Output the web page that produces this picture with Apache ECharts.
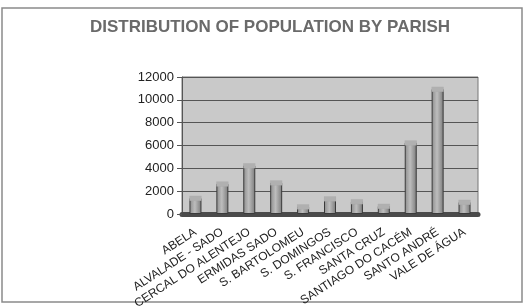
<!DOCTYPE html>
<html>
<head>
<meta charset="utf-8">
<script src="https://cdn.jsdelivr.net/npm/echarts@6/dist/echarts.min.js"></script>
<style>
  html, body { margin: 0; padding: 0; background: #fff; }
  #chart { width: 528px; height: 306px; }
</style>
</head>
<body>
<div id="chart"></div>
<script>
// parishes and resident population
const parishes = ['ABELA', 'ALVALADE - SADO', 'CERCAL DO ALENTEJO', 'ERMIDAS SADO', 'S. BARTOLOMEU',
  'S. DOMINGOS', 'S. FRANCISCO', 'SANTA CRUZ', 'SANTIAGO DO CACÉM', 'SANTO ANDRÉ', 'VALE DE ÁGUA']
const population = [1400, 2650, 4250, 2750, 650, 1350, 1100, 700, 6250, 10950, 1050]
const yTicks = [0, 2000, 4000, 6000, 8000, 10000, 12000]

const font = 'Liberation Sans, Arial, sans-serif'

const option = {
  animation: false,
  backgroundColor: '#fff',
  title: {
    text: 'DISTRIBUTION OF POPULATION BY PARISH',
    left: 265,
    textAlign: 'center',
    top: 14,
    textStyle: { fontFamily: font, fontSize: 17, fontWeight: 'bold', color: '#6a6a6a' }
  },
  graphic: [{
    type: 'rect',
    shape: { x: 2, y: 8, width: 520, height: 294 },
    style: { fill: 'none', stroke: '#8a8a8a', lineWidth: 1.5 },
    z: -1
  }],
  grid: {
    left: 182,
    right: 50,
    top: 77,
    bottom: 92,
    outerBoundsMode: 'none',
    containLabel: false,
    show: true,
    backgroundColor: '#c9c9c9',
    borderColor: '#777',
    borderWidth: 1
  },
  xAxis: {
    type: 'category',
    data: parishes,
    axisLine: { show: true, lineStyle: { color: '#4a4a4a', width: 5 } },
    axisTick: { show: false },
    axisLabel: {
      interval: 0,
      rotate: 33,
      margin: 17,
      fontFamily: font,
      fontSize: 12,
      color: '#222'
    }
  },
  yAxis: {
    type: 'value',
    min: yTicks[0],
    max: yTicks[yTicks.length - 1],
    interval: 2000,
    axisLine: { show: true, lineStyle: { color: '#555', width: 1 } },
    axisTick: { show: true, length: 5, lineStyle: { color: '#555' } },
    axisLabel: {
      fontFamily: font, fontSize: 13, color: '#222', margin: 8,
      formatter: function (v) { return String(v) }
    },
    splitLine: { show: true, lineStyle: { color: '#555', width: 1 } }
  },
  series: [
    {
      type: 'bar',
      data: population,
      barWidth: 12,
      itemStyle: {
        color: new echarts.graphic.LinearGradient(0, 0, 1, 0, [
          { offset: 0, color: '#8c8c8c' },
          { offset: 0.45, color: '#bdbdbd' },
          { offset: 1, color: '#7a7a7a' }
        ]),
        borderColor: '#3a3a3a',
        borderWidth: 1
      },
      z: 2
    },
    {
      type: 'pictorialBar',
      data: population,
      symbol: 'ellipse',
      symbolSize: [12, 5],
      symbolPosition: 'end',
      symbolOffset: [0, '-50%'],
      itemStyle: { color: '#b0b0b0', borderColor: '#3a3a3a', borderWidth: 1 },
      z: 3
    }
  ]
}

const myChart = echarts.init(document.getElementById('chart'))
myChart.setOption(option)
</script>
</body>
</html>
